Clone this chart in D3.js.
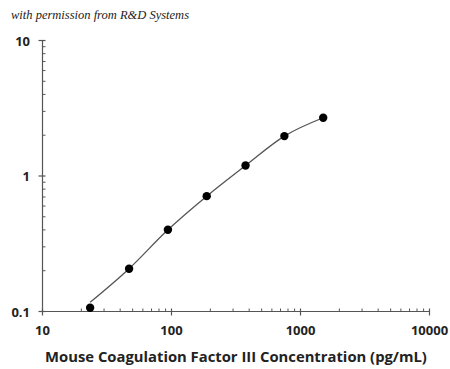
<!DOCTYPE html>
<html>
<head>
<meta charset="utf-8">
<script src="https://cdn.jsdelivr.net/npm/d3@7"></script>
<style>
  body { margin: 0; background: #fff; }
  svg { display: block; }
</style>
</head>
<body>
<div id="chart"></div>
<script>
// standard curve data (pg/mL vs OD)
const concentrations = [23.4, 46.9, 93.8, 187.5, 375, 750, 1500];
const odValues = [0.1065, 0.207, 0.401, 0.71, 1.195, 1.97, 2.69];
const fitValues = [0.117, 0.207, 0.401, 0.71, 1.195, 1.97, 2.69]; // fitted curve
const xTickValues = [10, 100, 1000, 10000];
const yTickValues = [0.1, 1, 10];
const xLabels = ["10", "100", "1000", "10000"];
const yLabels = ["0.1", "1", "10"];

let width = 450, height = 369;
let axisColor = "#555";

let svg = d3.select("#chart")
    .append("svg")
    .attr("width", width)
    .attr("height", height);

let x = d3.scaleLog().domain([10, 10000]).range([42.5, 429.5]);
let y = d3.scaleLog().domain([0.1, 10]).range([311.5, 40.5]);

// header note
svg.append("text")
    .attr("x", 11)
    .attr("y", 19)
    .attr("font-family", "'Liberation Serif', serif")
    .attr("font-style", "italic")
    .attr("font-size", "12.5px")
    .attr("fill", "#222")
    .text("with permission from R&D Systems");

// minor ticks (inside) for both axes
let xMinor = [];
let yMinor = [];
for (let d = 10; d < 10000; d *= 10) {
    for (let k = 2; k <= 9; k++) xMinor.push(d * k);
}
for (let d = 0.1; d < 9; d *= 10) {
    for (let k = 2; k <= 9; k++) yMinor.push(+(d * k).toFixed(3));
}

let xAxisG = svg.append("g");
xAxisG.append("line")
    .attr("x1", x(10)).attr("x2", x(10000))
    .attr("y1", y(0.1)).attr("y2", y(0.1))
    .attr("stroke", axisColor).attr("stroke-width", 1.2);
xAxisG.selectAll(".minor")
    .data(xMinor)
    .enter().append("line")
    .attr("x1", d => x(d)).attr("x2", d => x(d))
    .attr("y1", y(0.1)).attr("y2", y(0.1) - 3)
    .attr("stroke", axisColor).attr("stroke-width", 1);
xAxisG.selectAll(".major")
    .data(xTickValues)
    .enter().append("line")
    .attr("x1", d => x(d)).attr("x2", d => x(d))
    .attr("y1", y(0.1) - 3).attr("y2", y(0.1) + 4)
    .attr("stroke", axisColor).attr("stroke-width", 1.2);
xAxisG.selectAll(".xlab")
    .data(xTickValues)
    .enter().append("text")
    .attr("x", d => x(d))
    .attr("y", 335)
    .attr("text-anchor", "middle")
    .attr("font-family", "'Open Sans', sans-serif")
    .attr("font-weight", "bold")
    .attr("font-size", "13px")
    .attr("fill", "#222")
    .text((d, i) => xLabels[i]);

let yAxisG = svg.append("g");
yAxisG.append("line")
    .attr("x1", x(10)).attr("x2", x(10))
    .attr("y1", y(0.1)).attr("y2", y(10))
    .attr("stroke", axisColor).attr("stroke-width", 1.2);
yAxisG.selectAll(".minor")
    .data(yMinor)
    .enter().append("line")
    .attr("x1", x(10)).attr("x2", x(10) + 3)
    .attr("y1", d => y(d)).attr("y2", d => y(d))
    .attr("stroke", axisColor).attr("stroke-width", 1);
yAxisG.selectAll(".major")
    .data(yTickValues)
    .enter().append("line")
    .attr("x1", x(10) - 4).attr("x2", x(10) + 3)
    .attr("y1", d => y(d)).attr("y2", d => y(d))
    .attr("stroke", axisColor).attr("stroke-width", 1.2);
yAxisG.selectAll(".ylab")
    .data(yTickValues)
    .enter().append("text")
    .attr("x", 30)
    .attr("y", d => y(d) + 5)
    .attr("text-anchor", "end")
    .attr("font-family", "'Open Sans', sans-serif")
    .attr("font-weight", "bold")
    .attr("font-size", "13px")
    .attr("fill", "#222")
    .text((d, i) => yLabels[i]);

// axis title
svg.append("text")
    .attr("x", 236)
    .attr("y", 362)
    .attr("text-anchor", "middle")
    .attr("font-family", "'Open Sans', sans-serif")
    .attr("font-weight", "bold")
    .attr("font-size", "14.8px")
    .attr("fill", "#222")
    .text("Mouse Coagulation Factor III Concentration (pg/mL)");

// fitted curve
let line = d3.line()
    .x((d, i) => x(concentrations[i]))
    .y(d => y(d))
    .curve(d3.curveMonotoneX);

svg.append("path")
    .datum(fitValues)
    .attr("d", line)
    .attr("fill", "none")
    .attr("stroke", "#555")
    .attr("stroke-width", 1.3);

// data points
svg.selectAll(".pt")
    .data(odValues)
    .enter().append("circle")
    .attr("cx", (d, i) => x(concentrations[i]))
    .attr("cy", d => y(d))
    .attr("r", 4.2)
    .attr("fill", "#000");
</script>
</body>
</html>
